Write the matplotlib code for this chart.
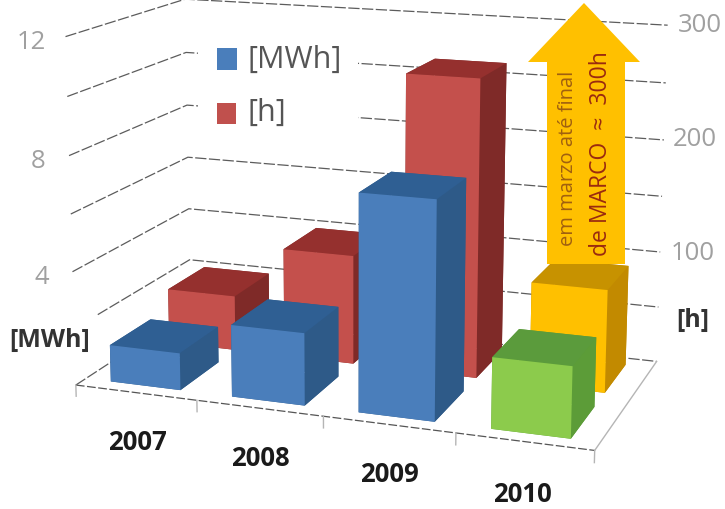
import numpy as np
import matplotlib
matplotlib.use("Agg")
import matplotlib.pyplot as plt
from matplotlib.patches import Rectangle, Polygon

# ---- data -------------------------------------------------------------
years = ["2007", "2008", "2009", "2010"]
mwh_values = [1.3, 2.5, 7.4, 2.4]
h_values = [50, 98, 262, 90]
legend_labels = ["[MWh]", "[h]"]
left_ticks = ["12", "8", "4"]
right_ticks = ["300", "200", "100"]
z_levels = [0, 2, 4, 6, 8, 10, 12]
H_PER_MWH = 25.0

front_cols = ["#4A7EBB", "#4A7EBB", "#4A7EBB", "#8CCB4C"]
top_cols = ["#2F5F93", "#2F5F93", "#2F5F93", "#5B9B3C"]
side_cols = ["#2E5A88", "#2E5A88", "#2E5A88", "#5C9C38"]
rfront_cols = ["#C4504C", "#C4504C", "#C4504C", "#FFC000"]
rtop_cols = ["#95302E", "#95302E", "#95302E", "#C79200"]
rside_cols = ["#7F2A28", "#7F2A28", "#7F2A28", "#C28A00"]

W, HT = 725, 509
plt.rcParams["font.family"] = ["Open Sans", "DejaVu Sans"]
fig = plt.figure(figsize=(W / 100, HT / 100), dpi=100, facecolor="white")
# Axes3D forces a square box: make it wide and let it overflow the figure.
ax = fig.add_axes([0, 0.5 - W / HT / 2, 1, W / HT], projection="3d", computed_zorder=False)
ax.set_axis_off()
ax.patch.set_alpha(0)

# ---- projection fitted to the picture's box corners ---------------------
NX, NY, NZ = 4.0, 1.0, 12.0
world = np.array([
    [0, 0, 0], [NX, 0, 0], [NX, NY, 0], [0, NY, 0],
    [0, 0, NZ], [0, NY, NZ], [NX, NY, NZ],
], float)
pix = np.array([
    [78, 385], [595, 450], [657, 362], [188, 310],
    [63, 37], [188, -1], [667, 25],
], float)
A = []
for (x, y, z), (u, v) in zip(world, pix):
    A.append([x, y, z, 1, 0, 0, 0, 0, -u * x, -u * y, -u * z, -u])
    A.append([0, 0, 0, 0, x, y, z, 1, -v * x, -v * y, -v * z, -v])
P = np.linalg.svd(np.array(A))[2][-1].reshape(3, 4)
P /= P[2, 3]


def custom_proj():
    pix2data = ax.transData.inverted().get_matrix()
    flip = np.array([[1, 0, 0], [0, -1, HT], [0, 0, 1]], float)
    Q = pix2data @ flip @ P
    depth = np.array([-0.1 / NX, 1.0 / NY, -0.1 / NZ, 0.0])
    return np.array([Q[0], Q[1], depth - 5.0 * Q[2], Q[2]])


ax.get_proj = custom_proj

# ---- walls --------------------------------------------------------------
GRID = dict(color="#5c5c5c", lw=0.9, dashes=(9, 2), zorder=1)
for z in z_levels:
    ax.plot([0, 0, NX], [0, NY, NY], [z, z, z], **GRID)
ax.plot([0, NX], [0, 0], [0, 0], color="#555555", lw=0.9, dashes=(7, 2), zorder=1)
ax.plot([NX, NX], [0, NY], [0, 0], color="#b5b5b5", lw=1.0, zorder=1)
for k in range(5):
    ax.plot([k, k], [0, 0], [0, -0.4], color="#b5b5b5", lw=1.0, zorder=1)

# ---- bars ---------------------------------------------------------------
BAR_W = 0.58
X_OFF = (1 - BAR_W) / 2
Y_BLUE, Y_RED, DEPTH = 0.08, 0.58, 0.34
xs = np.arange(len(years)) + X_OFF


def draw_bar(x, y, v, front, top, side, order):
    # faces: -Z, +Z, -Y, +Y, -X, +X
    cols = [side, top, front, side, side, side]
    ax.bar3d(x, y, 0, BAR_W, DEPTH, v, color=cols, shade=False, zorder=order, edgecolor="none", linewidth=0)


for i, (x, hv) in enumerate(zip(xs, h_values)):
    draw_bar(x, Y_RED, hv / H_PER_MWH, rfront_cols[i], rtop_cols[i], rside_cols[i], 3 + i)
for i, (x, v) in enumerate(zip(xs, mwh_values)):
    draw_bar(x, Y_BLUE, v, front_cols[i], top_cols[i], side_cols[i], 10 + i)

# ---- overlay in pixel coordinates ---------------------------------------
ov = fig.add_axes([0, 0, 1, 1], zorder=5)
ov.set_xlim(0, W)
ov.set_ylim(HT, 0)
ov.axis("off")
ov.patch.set_alpha(0)

# legend
ov.add_patch(Rectangle((198, 45), 160, 90, fc="white", ec="none"))
ov.add_patch(Rectangle((217, 48), 20, 22, fc="#4A7EBB", ec="none"))
ov.add_patch(Rectangle((217, 103), 19, 21, fc="#C0504D", ec="none"))
ov.text(248, 60, legend_labels[0], fontsize=22, color="#555555", va="center", ha="left")
ov.text(248, 113, legend_labels[1], fontsize=22, color="#555555", va="center", ha="left")

# arrow
ov.add_patch(Polygon([[584, 3], [640, 62], [625, 62], [625, 264], [547, 264], [547, 62], [528, 62]],
                     closed=True, fc="#FFC000", ec="none"))
ov.text(568, 158, "em marzo até final", rotation=90, fontsize=14.5, color="#A06010", ha="center", va="center")
ov.text(601, 154, "de MARCO  \u2248  300h", rotation=90, fontsize=16.5, color="#9A2A10", ha="center", va="center")

# axis labels
ov.add_patch(Rectangle((0, 305), 96, 53, fc="white", ec="none"))
for s, (x, y) in zip(left_ticks, [(31, 42), (38, 162), (42, 278)]):
    ov.text(x, y, s, fontsize=18.5, color="#a0a0a0", ha="center", va="center")
for s, (x, y) in zip(right_ticks, [(700, 25), (695, 140), (693, 253)]):
    ov.text(x, y, s, fontsize=18.5, color="#a0a0a0", ha="center", va="center")
ov.text(50, 340, "[MWh]", fontsize=18, fontweight="bold", color="#333333", ha="center", va="center")
ov.text(693, 320, "[h]", fontsize=18, fontweight="bold", color="#333333", ha="center", va="center")
for s, (x, y) in zip(years, [(137, 443), (260, 458), (389, 475), (522, 494)]):
    ov.text(x, y, s, fontsize=18.5, fontweight="bold", color="#1a1a1a", ha="center", va="center")

fig.savefig("out.png", dpi=100, facecolor="white")
